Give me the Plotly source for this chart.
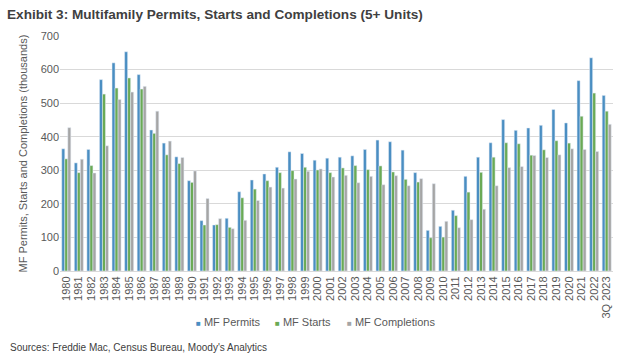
import plotly.graph_objects as go

years = [str(y) for y in range(1980, 2023)] + ["3Q 2023"]
permits = [364, 322, 362, 570, 620, 653, 585, 420, 381, 340, 269, 150, 137, 157, 236,
           271, 289, 309, 355, 350, 330, 336, 339, 343, 362, 390, 385, 360, 293, 121,
           133, 181, 282, 339, 382, 451, 419, 426, 434, 481, 441, 567, 635, 523]
starts = [334, 293, 314, 527, 545, 575, 542, 410, 346, 320, 264, 137, 138, 130, 218,
          244, 269, 293, 299, 309, 301, 293, 307, 314, 302, 313, 295, 273, 265, 99,
          101, 165, 235, 294, 339, 382, 379, 345, 361, 388, 381, 461, 530, 476]
completions = [427, 333, 292, 373, 511, 533, 550, 476, 387, 338, 298, 216, 156, 126, 151,
               210, 250, 247, 274, 297, 304, 280, 285, 263, 282, 257, 284, 254, 275, 260,
               148, 129, 153, 184, 254, 308, 311, 344, 338, 346, 364, 362, 356, 437]

W, H = 622, 363
L, R, T, B = 60, 9, 36, 92
pw, ph = W - L - R, H - T - B

font = "Liberation Sans, Arial, sans-serif"
tick_col = "#595959"
colors = ["#4a8ec2", "#6aaa55", "#a5a5a5"]
names = ["MF Permits", "MF Starts", "MF Completions"]
legend_ids = ["legend", "legend2", "legend3"]
legend_x = [156, 235, 307]

fig = go.Figure()
for name, vals, c in zip(names, [permits, starts, completions], colors):
    fig.add_bar(x=years, y=vals, name=name, marker_color=c, showlegend=False)
for name, c, lg in zip(names, colors, legend_ids):
    label = f'<span style="font-size:8px;color:{c}">■</span> {name}'
    fig.add_scatter(x=[None], y=[None], mode="markers", name=label, legend=lg,
                    marker=dict(symbol="square", size=6, color="rgba(0,0,0,0)"))

legend_common = dict(orientation="h", xref="container", xanchor="left",
                     yref="container", y=1 - 322 / H, yanchor="middle",
                     font=dict(size=11, color=tick_col), itemwidth=30,
                     bgcolor="rgba(0,0,0,0)")

fig.update_layout(
    width=W, height=H,
    margin=dict(l=L, r=R, t=T, b=B, autoexpand=False),
    paper_bgcolor="white", plot_bgcolor="white",
    barmode="group", bargap=0.28, bargroupgap=0.0,
    font=dict(family=font, size=11, color=tick_col),
    title=dict(text="<b>Exhibit 3: Multifamily Permits, Starts and Completions (5+ Units)</b>",
               xref="container", x=7 / W, xanchor="left",
               yref="container", y=1 - 14 / H, yanchor="middle",
               font=dict(family=font, size=13.6, color="#404040")),
    legend=dict(x=legend_x[0] / W, **legend_common),
    legend2=dict(x=legend_x[1] / W, **legend_common),
    legend3=dict(x=legend_x[2] / W, **legend_common),
    showlegend=True,
)
fig.update_xaxes(type="category", tickmode="array", tickvals=years, ticktext=years,
                 range=[-0.5, len(years) - 0.5],
                 tickangle=-90, tickfont=dict(size=11, color=tick_col),
                 showgrid=False, showline=True, linecolor="#d9d9d9", ticks="",
                 automargin=False)
fig.update_yaxes(range=[0, 700], dtick=100, showgrid=True, gridcolor="#d9d9d9",
                 zeroline=False, ticks="", tickfont=dict(size=11, color=tick_col),
                 automargin=False)

fig.add_annotation(text="MF Permits, Starts and Completions (thousands)", textangle=-90,
                   xref="paper", yref="paper", x=(22 - L) / pw, y=0.5,
                   xanchor="center", yanchor="middle", showarrow=False,
                   font=dict(size=11, color=tick_col))
fig.add_annotation(text="Sources: Freddie Mac, Census Bureau, Moody's Analytics",
                   xref="paper", yref="paper", x=(8 - L) / pw, y=(T + ph - 347) / ph,
                   xanchor="left", yanchor="middle", showarrow=False,
                   font=dict(size=10, color="#404040"))

fig.write_html("out.html", config={"displayModeBar": False},
               post_script="document.body.style.margin='0';document.body.style.overflow='hidden';")
